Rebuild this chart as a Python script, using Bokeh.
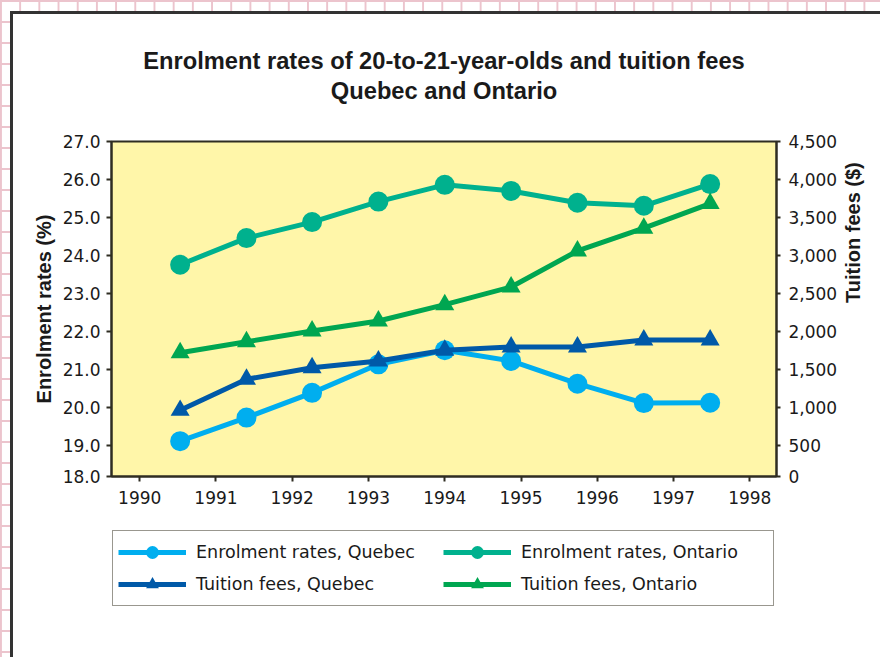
import math
import numpy as np
from bokeh.plotting import figure
from bokeh.layouts import column
from bokeh.models import (Range1d, LinearAxis, FixedTicker, NumeralTickFormatter,
                          Legend, LegendItem, Title)
from bokeh.embed import file_html
from bokeh.resources import INLINE

# ---- data ----
positions = [1990.53, 1991.40, 1992.26, 1993.13, 1994.00, 1994.87, 1995.74, 1996.61, 1997.48]
enrol_quebec = [19.12, 19.74, 20.39, 21.14, 21.51, 21.23, 20.63, 20.12, 20.13]
enrol_ontario = [23.76, 24.46, 24.88, 25.42, 25.86, 25.70, 25.39, 25.31, 25.88]
fees_quebec = [966, 1374, 1526, 1615, 1755, 1798, 1798, 1891, 1891]
fees_ontario = [1724, 1868, 2009, 2141, 2355, 2588, 3062, 3361, 3684]

year_ticks = [1990, 1991, 1992, 1993, 1994, 1995, 1996, 1997, 1998]
left_ticks = [18.19, 19, 20, 21, 22, 23, 24, 25, 26, 27]
right_ticks = [96.5, 500, 1000, 1500, 2000, 2500, 3000, 3500, 4000, 4500]

labels = ["Enrolment rates, Quebec", "Enrolment rates, Ontario",
          "Tuition fees, Quebec", "Tuition fees, Ontario"]
title_line1 = "Enrolment rates of 20-to-21-year-olds and tuition fees"
title_line2 = "Quebec and Ontario"
left_title = "Enrolment rates (%)"
right_title = "Tuition fees ($)"

C_EQ = "#00AEEF"
C_EO = "#00B18E"
C_FQ = "#0059A8"
C_FO = "#00A651"
AXC = "#2f2d22"
TXT = "#1a1a1a"

bg_styles = {
    "background-color": "#ffffff",
    "background-image": ("linear-gradient(#ffffff,#ffffff), linear-gradient(#333333,#333333), "
                         "linear-gradient(90deg, #ecc4cd 2px, transparent 2px), "
                         "linear-gradient(180deg, #ecc4cd 2px, transparent 2px)"),
    "background-position": "13px 14px, 10px 11px, 0px 0px, 0px 0px",
    "background-size": "100% 100%, 100% 100%, 19.2px 21px, 19.2px 21px",
    "background-repeat": "no-repeat, no-repeat, repeat, repeat",
}

# ---------------- main chart ----------------
p = figure(width=880, height=520, output_backend="svg", toolbar_location=None,
           x_range=Range1d(1989.63, 1998.35), y_range=Range1d(18.19, 27.0),
           min_border_left=111, min_border_right=104, min_border_top=141,
           min_border_bottom=44, background_fill_color="#FFF6A9",
           border_fill_color=None, outline_line_color=AXC, outline_line_width=2)
p.grid.visible = False

def make_title(text, standoff, size="23.7px"):
    return Title(text=text, align="center", text_font="Liberation Sans",
                 text_font_style="bold", text_font_size=size,
                 text_color=TXT, standoff=standoff)

# blank spacer between the title and the plot area, then the two title lines
p.add_layout(make_title(" ", 21, "12px"), "above")
p.add_layout(make_title(title_line2, 2), "above")
p.add_layout(make_title(title_line1, 2), "above")

p.extra_y_ranges = {"fees": Range1d(96.5, 4500), "label_pos": Range1d(0, 1)}

def style_axis(ax):
    ax.axis_line_color = AXC
    ax.axis_line_width = 2
    ax.major_tick_line_color = AXC
    ax.major_tick_line_width = 2
    ax.major_tick_in = 0
    ax.major_tick_out = 5
    ax.minor_tick_line_color = None
    ax.major_label_text_font = "DejaVu Sans"
    ax.major_label_text_font_size = "17px"
    ax.major_label_text_color = TXT
    ax.axis_label_text_font = "Liberation Sans"
    ax.axis_label_text_font_style = "bold"
    ax.axis_label_text_font_size = "20px"
    ax.axis_label_text_color = TXT

xa = p.xaxis[0]
xa.ticker = FixedTicker(ticks=year_ticks)
style_axis(xa)
xa.major_label_standoff = 9

ya = p.yaxis[0]
ya.ticker = FixedTicker(ticks=left_ticks)
ya.formatter = NumeralTickFormatter(format="0.0")
ya.major_label_overrides = {left_ticks[0]: "18.0"}
style_axis(ya)
ya.major_label_standoff = 6
ya.axis_label = left_title
ya.axis_label_standoff = 5

ra = LinearAxis(y_range_name="fees", ticker=FixedTicker(ticks=right_ticks),
                formatter=NumeralTickFormatter(format="0,0"))
ra.major_label_overrides = {right_ticks[0]: "0"}
style_axis(ra)
ra.major_tick_out = 4
ra.major_label_standoff = 8
p.add_layout(ra, "right")

# right-hand axis title, read bottom-to-top as in the reference
rt = LinearAxis(y_range_name="label_pos", ticker=FixedTicker(ticks=[0.518]))
rt.major_label_overrides = {0.518: right_title}
rt.axis_line_color = None
rt.major_tick_line_color = None
rt.minor_tick_line_color = None
rt.major_tick_out = 0
rt.major_tick_in = 0
rt.major_label_standoff = 13
rt.major_label_orientation = math.pi / 2
rt.major_label_text_font = "Liberation Sans"
rt.major_label_text_font_style = "bold"
rt.major_label_text_font_size = "20px"
rt.major_label_text_color = TXT
p.add_layout(rt, "right")

p.line(positions, enrol_quebec, line_color=C_EQ, line_width=5)
p.scatter(positions, enrol_quebec, marker="circle", size=20, fill_color=C_EQ, line_color=None)
p.line(positions, enrol_ontario, line_color=C_EO, line_width=5)
p.scatter(positions, enrol_ontario, marker="circle", size=20, fill_color=C_EO, line_color=None)
p.line(positions, fees_quebec, line_color=C_FQ, line_width=5, y_range_name="fees")
p.scatter(positions, fees_quebec, marker="triangle", size=19, fill_color=C_FQ, line_color=None,
          y_range_name="fees")
p.line(positions, fees_ontario, line_color=C_FO, line_width=5, y_range_name="fees")
p.scatter(positions, fees_ontario, marker="triangle", size=19, fill_color=C_FO, line_color=None,
          y_range_name="fees")

# ---------------- legend strip below the chart ----------------
lg = figure(width=880, height=137, output_backend="svg", toolbar_location=None,
            title=None, x_axis_type=None, y_axis_type=None,
            x_range=Range1d(0, 1), y_range=Range1d(0, 1),
            min_border_left=0, min_border_right=0, min_border_top=0, min_border_bottom=0,
            background_fill_color=None, border_fill_color=None, outline_line_color=None)
lg.grid.visible = False

nan_pt = np.array([np.nan])

def legend_renderers(color, marker):
    ln = lg.line(nan_pt, nan_pt, line_color=color, line_width=5)
    mk = lg.scatter(nan_pt, nan_pt, marker=marker, size=20, fill_color=color, line_color=None)
    return [ln, mk]

legend = Legend(items=[
    LegendItem(label=labels[0], renderers=legend_renderers(C_EQ, "circle")),
    LegendItem(label=labels[2], renderers=legend_renderers(C_FQ, "triangle")),
    LegendItem(label=labels[1], renderers=legend_renderers(C_EO, "circle")),
    LegendItem(label=labels[3], renderers=legend_renderers(C_FO, "triangle")),
], orientation="vertical", nrows=2, ncols=2,
    location=(1, 51), padding=5, margin=0, spacing=0,
    glyph_width=68, glyph_height=32, label_height=20, label_width=247,
    label_standoff=10, border_line_color="#33301f", border_line_width=1.5,
    background_fill_color="white", background_fill_alpha=1.0,
    label_text_font="DejaVu Sans", label_text_font_size="17.5px",
    label_text_color=TXT)
lg.add_layout(legend, "center")

page = column(p, lg, styles=bg_styles, spacing=0)

open("out.html", "w").write(file_html(page, INLINE))
